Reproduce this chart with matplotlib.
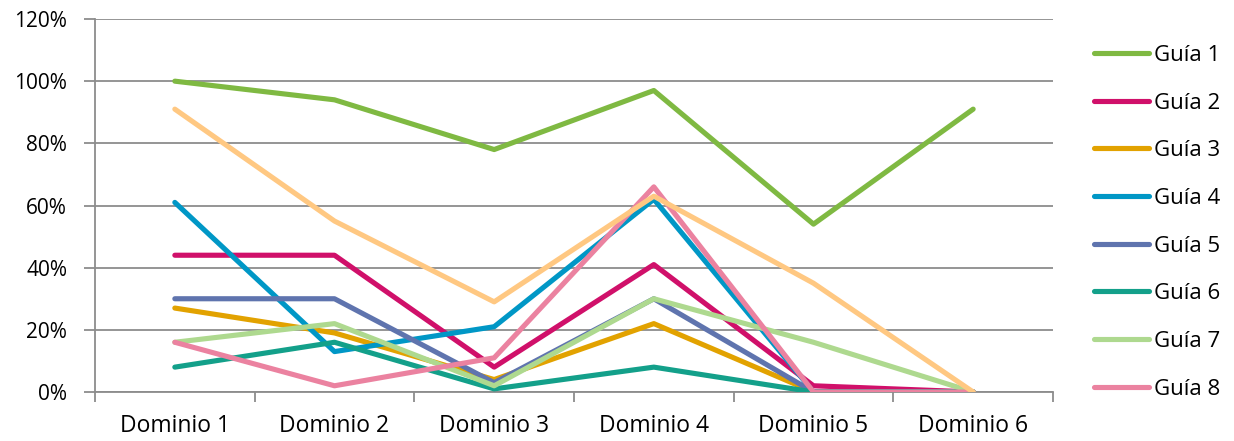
import matplotlib
matplotlib.use("Agg")
import matplotlib.pyplot as plt
from matplotlib.ticker import FuncFormatter, FixedLocator

categories = ["Dominio 1", "Dominio 2", "Dominio 3", "Dominio 4", "Dominio 5", "Dominio 6"]
guia1 = [100, 94, 78, 97, 54, 91]
guia2 = [44, 44, 8, 41, 2, 0]
guia3 = [27, 19, 4, 22, 0, 0]
guia4 = [61, 13, 21, 62, 0, 0]
guia5 = [30, 30, 3, 30, 0, 0]
guia6 = [8, 16, 1, 8, 0, 0]
guia7 = [16, 22, 2, 30, 16, 0]
guia8 = [16, 2, 11, 66, 0, 0]
guia9 = [91, 55, 29, 63, 35, 0]

series = [
    ("Guía 1", guia1, "#7FB942"),
    ("Guía 2", guia2, "#D0106A"),
    ("Guía 3", guia3, "#E2A200"),
    ("Guía 4", guia4, "#0097C6"),
    ("Guía 5", guia5, "#5F74AE"),
    ("Guía 6", guia6, "#13A08A"),
    ("Guía 7", guia7, "#AED98F"),
    ("Guía 8", guia8, "#EB82A0"),
    ("_Guía 9", guia9, "#FFC882"),
]

plt.rcParams['font.family'] = ['Open Sans', 'DejaVu Sans']

fig = plt.figure(figsize=(12.34, 4.41), dpi=100)
ax = fig.add_axes([95/1234, 49/441, (1053-95)/1234, (392-19)/441])

x = list(range(len(categories)))
for name, vals, col in series:
    ax.plot(x, vals, color=col, lw=3.7, label=name, solid_capstyle='round', zorder=3)

ax.set_xlim(-0.5, len(categories) - 0.5)
ax.set_ylim(0, 120)
ax.set_yticks(range(0, 121, 20))
ax.yaxis.set_major_formatter(FuncFormatter(lambda v, p: f"{int(v)}%"))
ax.yaxis.grid(True, color="#8C8C8C", lw=1.3, zorder=1)
ax.set_xticks(x)
ax.set_xticklabels(categories)
ax.xaxis.set_minor_locator(FixedLocator([i - 0.5 for i in range(len(categories) + 1)]))
ax.tick_params(axis='x', which='major', length=0, pad=16, labelsize=16.5)
ax.tick_params(axis='x', which='minor', length=7, width=1.3, color="#8C8C8C")
ax.tick_params(axis='y', length=8, width=1.3, color="#8C8C8C", pad=12, labelsize=15)
for s in ["top", "right"]:
    ax.spines[s].set_visible(False)
for s in ["left", "bottom"]:
    ax.spines[s].set_color("#8C8C8C")
    ax.spines[s].set_linewidth(1.3)

fig.legend(loc="upper left", bbox_to_anchor=(1085/1234, 1 - 36/441), frameon=False,
           fontsize=16, handlelength=2.5, handletextpad=0.2, labelspacing=1.2,
           borderaxespad=0)

fig.savefig("out.png", dpi=100)
